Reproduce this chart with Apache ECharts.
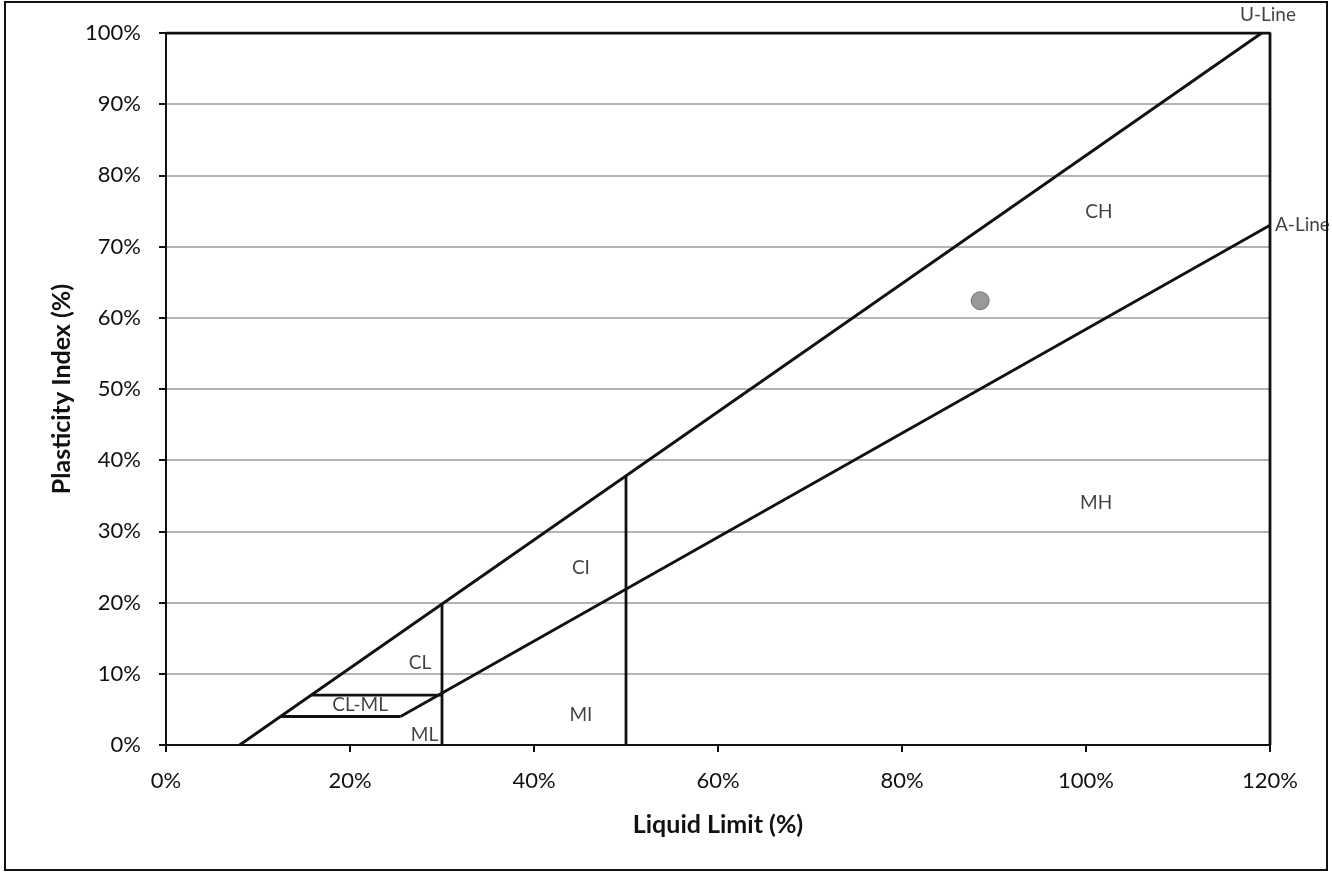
<!DOCTYPE html>
<html>
<head>
<meta charset="utf-8">
<script src="https://cdn.jsdelivr.net/npm/echarts@6/dist/echarts.min.js"></script>
<style>
html,body{margin:0;padding:0;background:#fff;}
#chart{width:1332px;height:873px;}
</style>
</head>
<body>
<div id="chart"></div>
<script>
// ---- data ----
const xTicks = [0, 20, 40, 60, 80, 100, 120];
const yTicks = [0, 10, 20, 30, 40, 50, 60, 70, 80, 90, 100];
const boundaryLine = [[0, 100], [120, 100], [120, 0]];
const uLine = [[8, 0], [119.1, 100]];
const aLine = [[25.5, 4], [120, 73]];
const ll30Line = [[30, 0], [30, 19.8]];
const ll50Line = [[50, 0], [50, 37.8]];
const clml7Line = [[15.8, 7], [30, 7]];
const clml4Line = [[12.4, 4], [25.5, 4]];
const samplePoint = [[88.5, 62.4]];
const zoneNames = ['CL', 'CL-ML', 'ML', 'MI', 'CI', 'CH', 'MH'];
const zoneX = [27.6, 21.1, 28.1, 45.1, 45.1, 101.4, 101.1];
const zoneY = [11.5, 5.6, 1.4, 4.2, 24.9, 74.9, 34.0];
const lineNames = ['U-Line', 'A-Line'];
const lineNameX = [120, 120];
const lineNameY = [100, 73];

const FONT = 'Lato, "Open Sans", sans-serif';
const chart = echarts.init(document.getElementById('chart'), null, {renderer: 'canvas'});

function seg(data) {
  return {
    type: 'line', data: data, symbol: 'none', silent: true,
    lineStyle: {color: '#111', width: 2.8}, z: 3, animation: false
  };
}

const option = {
  backgroundColor: '#fff',
  animation: false,
  grid: {left: 166, right: 62, top: 33, bottom: 128},
  xAxis: {
    type: 'value', min: 0, max: 120, interval: 20,
    name: 'Liquid Limit (%)', nameLocation: 'middle', nameGap: 67,
    nameTextStyle: {fontFamily: FONT, fontWeight: 'bold', fontSize: 25, color: '#111'},
    axisLine: {show: true, lineStyle: {color: '#111', width: 2}},
    axisTick: {show: true, length: 7, lineStyle: {color: '#111', width: 2}},
    axisLabel: {formatter: v => xTicks.includes(v) ? v + '%' : '', fontFamily: FONT, fontSize: 22, color: '#111', margin: 25},
    splitLine: {show: false}
  },
  yAxis: {
    type: 'value', min: 0, max: 100, interval: 10,
    name: 'Plasticity Index (%)', nameLocation: 'middle', nameGap: 91, nameRotate: 90,
    nameTextStyle: {fontFamily: FONT, fontWeight: 'bold', fontSize: 25, color: '#111'},
    axisLine: {show: true, lineStyle: {color: '#111', width: 2}},
    axisTick: {show: true, length: 7, lineStyle: {color: '#111', width: 2}},
    axisLabel: {formatter: v => yTicks.includes(v) ? v + '%' : '', fontFamily: FONT, fontSize: 22, color: '#111', margin: 25},
    splitLine: {show: true, lineStyle: {color: '#9a9a9a', width: 1.5}}
  },
  graphic: [{
    type: 'rect', shape: {x: 5, y: 2, width: 1322, height: 868},
    style: {fill: 'none', stroke: '#111', lineWidth: 2}, silent: true, z: 100
  }],
  series: [
    seg(boundaryLine), seg(uLine), seg(aLine), seg(ll30Line), seg(ll50Line), seg(clml7Line), seg(clml4Line),
    {
      type: 'scatter', data: samplePoint, symbol: 'circle', symbolSize: 18,
      itemStyle: {color: '#7f7f7f', borderColor: '#5f5f5f', borderWidth: 1}, z: 5
    },
    {
      type: 'scatter', symbolSize: 0, silent: true, z: 6,
      data: zoneNames.map((n, i) => ({value: [zoneX[i], zoneY[i]], name: n})),
      label: {show: true, position: 'inside', formatter: p => p.name, fontFamily: FONT, fontSize: 19, color: '#111'}
    },
    {
      type: 'scatter', symbolSize: 0, silent: true, z: 6,
      data: lineNames.map((n, i) => ({
        value: [lineNameX[i], lineNameY[i]], name: n,
        label: i === 0 ? {position: 'top', offset: [-2, -5]} : {position: 'right', offset: [1, 0]}
      })),
      label: {show: true, formatter: p => p.name, fontFamily: FONT, fontSize: 19, color: '#111', distance: 4}
    }
  ]
};
chart.setOption(option);
</script>
</body>
</html>
